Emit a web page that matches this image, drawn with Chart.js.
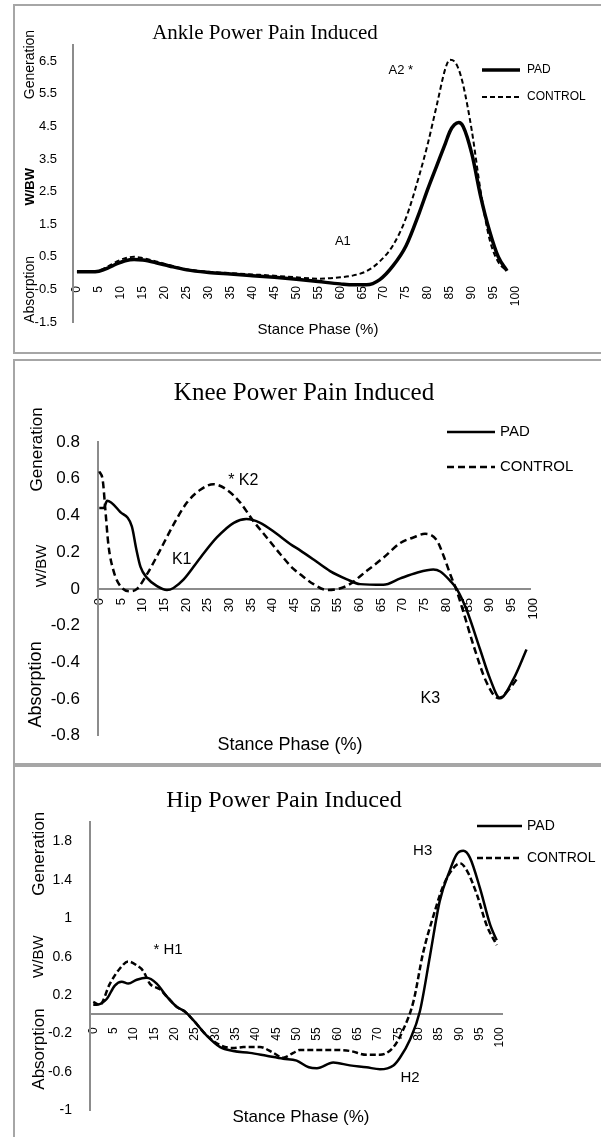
<!DOCTYPE html>
<html>
<head>
<meta charset="utf-8">
<script src="https://cdn.jsdelivr.net/npm/chart.js@4.4.0/dist/chart.umd.min.js"></script>
<style>
    body { margin: 0; background: #fff; width: 601px; height: 1137px; position: relative; overflow: hidden; }
    .panel { position: absolute; left: 13px; width: 600px; border: 2px solid #a6a6a6; border-right: none; box-sizing: border-box; }
    canvas { position: absolute; left: 0; }
</style>
</head>
<body>
<div class="panel" style="top:4px;height:350px"></div>
<div class="panel" style="top:359px;height:406px"></div>
<div class="panel" style="top:765px;height:390px"></div>

<canvas id="ankleChart" width="601" height="356" style="top:0px"></canvas>
<canvas id="kneeChart" width="601" height="408" style="top:356px"></canvas>
<canvas id="hipChart" width="601" height="373" style="top:764px"></canvas>

<script>
const SANS = '"Liberation Sans", Arial, sans-serif';
const SERIF = '"Liberation Serif", "Times New Roman", serif';

// x tick labels (stance phase %)
const stanceTicks = [0, 5, 10, 15, 20, 25, 30, 35, 40, 45, 50, 55, 60, 65, 70, 75, 80, 85, 90, 95, 100];

// ankle
const ankleYTicks = [-1.5, -0.5, 0.5, 1.5, 2.5, 3.5, 4.5, 5.5, 6.5];
const ankleStance = [0, 3, 5, 7, 9, 11, 13, 15, 18, 21, 25, 30, 35, 40, 45, 50, 55, 60, 63, 66, 69, 72, 75, 78, 80, 82, 84, 85, 86, 87, 88, 90, 92, 94, 96, 98];
const anklePad = [0.04, 0.04, 0.06, 0.15, 0.28, 0.38, 0.42, 0.40, 0.32, 0.22, 0.10, 0.02, -0.03, -0.08, -0.13, -0.19, -0.26, -0.33, -0.36, -0.36, -0.20, 0.22, 0.84, 1.85, 2.6, 3.3, 4.0, 4.35, 4.55, 4.62, 4.5, 3.65, 2.35, 1.3, 0.5, 0.07];
const ankleControl = [0.04, 0.04, 0.07, 0.2, 0.35, 0.46, 0.5, 0.46, 0.36, 0.25, 0.12, 0.04, 0.0, -0.04, -0.08, -0.13, -0.17, -0.13, -0.07, 0.06, 0.36, 0.85, 1.7, 3.0, 4.0, 5.16, 6.3, 6.55, 6.5, 6.25, 5.78, 4.35, 2.5, 1.05, 0.34, 0.07];

// knee
const kneeYTicks = [-0.8, -0.6, -0.4, -0.2, 0, 0.2, 0.4, 0.6, 0.8];
const kneePadX = [0, 1, 1.8, 4.8, 7.5, 8.5, 9.5, 11, 13.3, 15.6, 17.1, 19.4, 23.3, 27.1, 31, 33.9, 37.1, 40.9, 44, 46.3, 49.4, 53.2, 57.1, 60.1, 65.5, 69.4, 73.2, 77, 78.6, 80.9, 82.4, 84.7, 87.8, 90.1, 92.4, 95.5, 98.5];
const kneePad = [0.44, 0.44, 0.48, 0.42, 0.34, 0.22, 0.12, 0.06, 0.015, -0.006, 0.005, 0.05, 0.17, 0.28, 0.36, 0.38, 0.36, 0.30, 0.245, 0.21, 0.16, 0.097, 0.052, 0.026, 0.022, 0.057, 0.088, 0.105, 0.095, 0.044, 0, -0.115, -0.33, -0.49, -0.595, -0.49, -0.33];
const kneeControlX = [0, 0.8, 1.4, 2.1, 3.3, 4.8, 7.1, 8.7, 11, 14, 17.1, 20.2, 23.3, 26.3, 29.4, 32.5, 35.5, 38.6, 41.7, 44.7, 46.3, 49.4, 52.5, 57.1, 61.6, 65.5, 69.4, 72.4, 75.1, 77.8, 79.3, 80.9, 82.4, 84, 86.3, 89.3, 92, 94.7, 96.6];
const kneeControl = [0.64, 0.59, 0.43, 0.24, 0.097, 0.017, -0.013, 0.0, 0.08, 0.21, 0.35, 0.47, 0.54, 0.57, 0.54, 0.47, 0.37, 0.28, 0.19, 0.11, 0.08, 0.026, -0.006, 0.017, 0.097, 0.17, 0.25, 0.28, 0.30, 0.265, 0.185, 0.08, -0.01, -0.13, -0.31, -0.51, -0.595, -0.54, -0.48];

// hip
const hipYTicks = [-1, -0.6, -0.2, 0.2, 0.6, 1, 1.4, 1.8];
const hipPadX = [0, 0.8, 3.3, 5.3, 7, 8.6, 10.7, 13.1, 15.6, 18, 20.5, 22.5, 24.6, 27.9, 31.2, 34.4, 38.5, 42.6, 46.7, 50, 53, 55, 59, 63.1, 67.2, 70.5, 73.8, 75.4, 77.9, 80.3, 82.8, 85.2, 87.7, 89.3, 91, 92.6, 95.1, 97.6, 99.2];
const hipPad = [0.10, 0.10, 0.16, 0.30, 0.34, 0.32, 0.36, 0.38, 0.32, 0.19, 0.08, 0.03, -0.06, -0.22, -0.34, -0.38, -0.40, -0.43, -0.46, -0.48, -0.55, -0.56, -0.50, -0.53, -0.55, -0.57, -0.53, -0.45, -0.26, 0.03, 0.61, 1.18, 1.50, 1.66, 1.70, 1.63, 1.31, 0.93, 0.77];
const hipControlX = [0, 1.6, 4.1, 6.6, 8.6, 10.7, 12.3, 13.9, 16.4, 18, 20.5, 22.5, 24.6, 27.9, 31.2, 34.4, 36.9, 41, 44.3, 46.7, 49.2, 50.8, 55, 59, 63.1, 67.2, 70.5, 73.8, 76.2, 78.7, 81.1, 83.6, 86.1, 88.5, 90.2, 91.8, 94.3, 96.7, 99.2];
const hipControl = [0.13, 0.10, 0.32, 0.48, 0.55, 0.51, 0.45, 0.32, 0.26, 0.19, 0.08, 0.03, -0.06, -0.22, -0.32, -0.35, -0.34, -0.34, -0.40, -0.45, -0.40, -0.37, -0.37, -0.37, -0.38, -0.42, -0.42, -0.34, -0.16, 0.13, 0.64, 1.02, 1.34, 1.52, 1.57, 1.50, 1.25, 0.93, 0.72];

const seriesNames = ['PAD', 'CONTROL'];

function toPoints(xs, ys) {
    return xs.map((x, i) => ({ x: x, y: ys[i] }));
}

// draws titles, rotated y labels, peak notes and the small legend
const extrasPlugin = {
    id: 'extras',
    afterDraw(chart, args, o) {
        const ctx = chart.ctx;
        const xs = chart.scales.x, ys = chart.scales.y;
        ctx.save();
        ctx.fillStyle = '#000';
        ctx.textBaseline = 'middle';
        ctx.textAlign = 'center';

        ctx.font = o.titleFont;
        ctx.fillText(o.title, o.titleX, o.titleY);

        ctx.font = o.xTitleFont;
        ctx.fillText('Stance Phase (%)', o.xTitleX, o.xTitleY);

        o.yTitles.forEach(t => {
            ctx.save();
            ctx.translate(t.x, ys.getPixelForValue(t.value));
            ctx.rotate(-Math.PI / 2);
            ctx.font = t.font;
            ctx.fillText(t.text, 0, 0);
            ctx.restore();
        });

        ctx.font = o.noteFont;
        o.notes.forEach(n => {
            ctx.fillText(n.text, xs.getPixelForValue(n.x), ys.getPixelForValue(n.y));
        });

        const lg = o.legend;
        chart.data.datasets.forEach((ds, i) => {
            const y = lg.ys[i];
            ctx.beginPath();
            ctx.setLineDash(ds.borderDash || []);
            ctx.lineWidth = ds.borderWidth;
            ctx.strokeStyle = ds.borderColor;
            ctx.moveTo(lg.x1, y);
            ctx.lineTo(lg.x2, y);
            ctx.stroke();
            ctx.setLineDash([]);
            ctx.textAlign = 'left';
            ctx.font = lg.font;
            ctx.fillText(ds.label, lg.textX, y);
        });
        ctx.restore();
    }
};

function makeChart(id, c) {
    const ctx = document.getElementById(id);
    return new Chart(ctx, {
        type: 'line',
        data: {
            datasets: [
                {
                    label: seriesNames[0],
                    data: c.pad,
                    borderColor: '#000',
                    borderWidth: c.padWidth,
                    pointRadius: 0,
                    cubicInterpolationMode: 'monotone'
                },
                {
                    label: seriesNames[1],
                    data: c.control,
                    borderColor: '#000',
                    borderWidth: c.controlWidth,
                    borderDash: c.dash,
                    pointRadius: 0,
                    cubicInterpolationMode: 'monotone'
                }
            ]
        },
        options: {
            responsive: false,
            animation: false,
            devicePixelRatio: 1,
            layout: { padding: c.padding },
            scales: {
                x: {
                    type: 'linear',
                    position: { y: 0 },
                    min: c.xMin,
                    max: c.xMax,
                    afterBuildTicks: s => { s.ticks = stanceTicks.map(v => ({ value: v })); },
                    grid: { display: false, drawTicks: false },
                    border: { display: c.zeroLine, color: '#8c8c8c', width: 2 },
                    ticks: {
                        autoSkip: false,
                        minRotation: 90,
                        maxRotation: 90,
                        padding: c.xPad,
                        color: '#000',
                        font: { family: SANS, size: c.xFont },
                        callback: v => String(v)
                    }
                },
                y: {
                    type: 'linear',
                    position: 'left',
                    min: c.yMin,
                    max: c.yMax,
                    afterFit: s => { s.width = c.yWidth; },
                    afterBuildTicks: s => { s.ticks = c.yTicks.map(v => ({ value: v })); },
                    grid: { display: false, drawTicks: false },
                    border: { display: true, color: '#8c8c8c', width: 2 },
                    ticks: {
                        padding: c.yPad,
                        color: '#000',
                        font: { family: SANS, size: c.yFont },
                        callback: v => String(Math.round(v * 10) / 10)
                    }
                }
            },
            plugins: {
                legend: { display: false },
                tooltip: { enabled: false },
                extras: c.extras
            }
        },
        plugins: [extrasPlugin]
    });
}

makeChart('ankleChart', {
    pad: toPoints(ankleStance, anklePad),
    control: toPoints(ankleStance, ankleControl),
    padWidth: 3.5, controlWidth: 2, dash: [5, 3],
    padding: { left: 13, right: 83, top: 45, bottom: 34 },
    yWidth: 60, xMin: -0.9, xMax: 100.5, yMin: -1.5, yMax: 7,
    yTicks: ankleYTicks, zeroLine: false,
    xPad: 13, xFont: 12, yPad: 16, yFont: 13,
    extras: {
        title: 'Ankle Power Pain Induced', titleFont: '21px ' + SERIF, titleX: 265, titleY: 33,
        xTitleFont: '15px ' + SANS, xTitleX: 318, xTitleY: 330,
        yTitles: [
            { text: 'Generation', x: 30, value: 6.4, font: '14px ' + SANS },
            { text: 'W/BW', x: 30, value: 2.65, font: 'bold 13px ' + SANS },
            { text: 'Absorption', x: 30, value: -0.5, font: '14px ' + SANS }
        ],
        noteFont: '13px ' + SANS,
        notes: [
            { text: 'A1', x: 60.6, y: 0.96 },
            { text: 'A2 *', x: 73.8, y: 6.23 }
        ],
        legend: { x1: 482, x2: 520, textX: 527, ys: [70, 97], font: '12px ' + SANS }
    }
});

makeChart('kneeChart', {
    pad: toPoints(kneePadX, kneePad),
    control: toPoints(kneeControlX, kneeControl),
    padWidth: 2.5, controlWidth: 2.5, dash: [7, 4],
    padding: { left: 13, right: 71, top: 86, bottom: 21 },
    yWidth: 85, xMin: -0.3, xMax: 99.3, yMin: -0.8, yMax: 0.8,
    yTicks: kneeYTicks, zeroLine: true,
    xPad: 9, xFont: 13, yPad: 18, yFont: 17,
    extras: {
        title: 'Knee Power Pain Induced', titleFont: '25px ' + SERIF, titleX: 304, titleY: 37,
        xTitleFont: '18px ' + SANS, xTitleX: 290, xTitleY: 389,
        yTitles: [
            { text: 'Generation', x: 37, value: 0.76, font: '17px ' + SANS },
            { text: 'W/BW', x: 42, value: 0.125, font: '15px ' + SANS },
            { text: 'Absorption', x: 36, value: -0.52, font: '18px ' + SANS }
        ],
        noteFont: '16px ' + SANS,
        notes: [
            { text: 'K1', x: 19, y: 0.16 },
            { text: '* K2', x: 33.2, y: 0.59 },
            { text: 'K3', x: 76.3, y: -0.6 }
        ],
        legend: { x1: 447, x2: 495, textX: 500, ys: [76, 111], font: '15px ' + SANS }
    }
});

makeChart('hipChart', {
    pad: toPoints(hipPadX, hipPad),
    control: toPoints(hipControlX, hipControl),
    padWidth: 2.5, controlWidth: 2.5, dash: [6, 3],
    padding: { left: 13, right: 99, top: 58, bottom: 3 },
    yWidth: 77, xMin: -0.8, xMax: 100.5, yMin: -1, yMax: 2,
    yTicks: hipYTicks, zeroLine: true,
    xPad: 13, xFont: 12, yPad: 18, yFont: 14,
    extras: {
        title: 'Hip Power Pain Induced', titleFont: '24px ' + SERIF, titleX: 284, titleY: 37,
        xTitleFont: '17px ' + SANS, xTitleX: 301, xTitleY: 353,
        yTitles: [
            { text: 'Generation', x: 39, value: 1.67, font: '17px ' + SANS },
            { text: 'W/BW', x: 39, value: 0.6, font: '15px ' + SANS },
            { text: 'Absorption', x: 39, value: -0.36, font: '17px ' + SANS }
        ],
        noteFont: '15px ' + SANS,
        notes: [
            { text: '* H1', x: 18.4, y: 0.67 },
            { text: 'H2', x: 77.9, y: -0.66 },
            { text: 'H3', x: 81, y: 1.7 }
        ],
        legend: { x1: 477, x2: 522, textX: 527, ys: [62, 94], font: '14px ' + SANS }
    }
});
</script>
</body>
</html>
